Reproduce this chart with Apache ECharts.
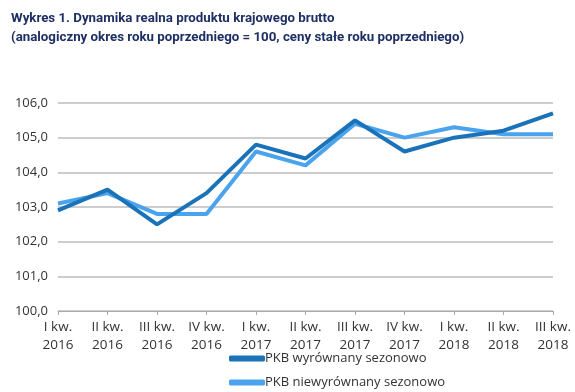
<!DOCTYPE html>
<html><head><meta charset="utf-8">
<script src="https://cdn.jsdelivr.net/npm/echarts@6/dist/echarts.min.js"></script>
<style>html,body{margin:0;padding:0;background:#fff}#c{width:575px;height:392px}</style>
</head><body><div id="c"></div>
<script>
const categories = ["I kw.\n2016","II kw.\n2016","III kw.\n2016","IV kw.\n2016","I kw.\n2017","II kw.\n2017","III kw.\n2017","IV kw.\n2017","I kw.\n2018","II kw.\n2018","III kw.\n2018"];
const seasonallyAdjusted = [102.9,103.5,102.5,103.4,104.8,104.4,105.5,104.6,105.0,105.2,105.7];
const notAdjusted = [103.1,103.4,102.8,102.8,104.6,104.2,105.4,105.0,105.3,105.1,105.1];
const seriesNames = ["PKB wyrównany sezonowo","PKB niewyrównany sezonowo"];
const titleLines = ["Wykres 1. Dynamika realna produktu krajowego brutto","(analogiczny okres roku poprzedniego = 100, ceny stałe roku poprzedniego)"];

const chart = echarts.init(document.getElementById('c'), null, {renderer:'canvas'});
const font = "'Roboto','Noto Sans',sans-serif";
const lblFont = "'Open Sans','Noto Sans',sans-serif";
const legendBase = {orient:'vertical',left:224,itemWidth:36,itemHeight:6,icon:'roundRect',
  textStyle:{fontFamily:lblFont,fontSize:13,color:'#333',padding:[0,0,0,-5]}};
chart.setOption({
  animation:false,
  title:{text:titleLines.join("\n"),left:6,top:4,textStyle:{fontFamily:font,fontWeight:'bold',fontSize:13.3,color:'#1e2f63',lineHeight:19}},
  grid:{left:58,right:22,top:103,bottom:81},
  legend:[
    Object.assign({},legendBase,{top:347,data:[seriesNames[0]]}),
    Object.assign({},legendBase,{top:371,data:[seriesNames[1]]})
  ],
  xAxis:{type:'category',data:categories,boundaryGap:false,
    axisLine:{lineStyle:{color:'#aaa',width:1}},
    axisTick:{show:true,alignWithLabel:true,length:4,lineStyle:{color:'#aaa'}},
    axisLabel:{fontFamily:lblFont,fontSize:13.5,color:'#333',lineHeight:18,margin:7,interval:0}},
  yAxis:{type:'value',min:100,max:106,interval:1,
    axisLabel:{fontFamily:lblFont,fontSize:13,color:'#333',margin:10,formatter:v=>v.toFixed(1).replace('.',',')},
    axisLine:{show:false},axisTick:{show:false},
    splitLine:{lineStyle:{color:'#bdbdbd',width:1.5}}},
  series:[
    {name:seriesNames[0],type:'line',data:seasonallyAdjusted,symbol:'none',z:3,lineStyle:{width:4,color:'#1a73b9'},itemStyle:{color:'#1a73b9'}},
    {name:seriesNames[1],type:'line',data:notAdjusted,symbol:'none',z:2,lineStyle:{width:4,color:'#4ba3ee'},itemStyle:{color:'#4ba3ee'}}
  ]
});
</script></body></html>
